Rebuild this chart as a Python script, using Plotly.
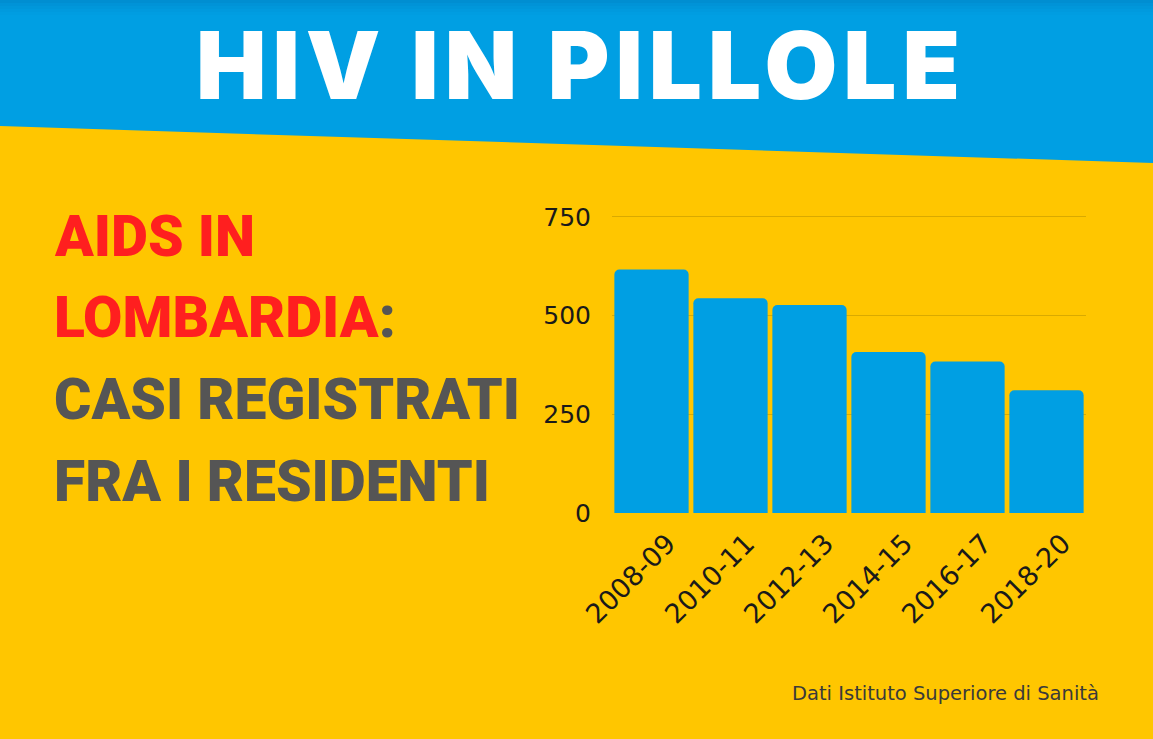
import plotly.graph_objects as go

W, H = 1153, 739

categories = ["2008-09", "2010-11", "2012-13", "2014-15", "2016-17", "2018-20"]
cases = [617, 544, 527, 408, 384, 311]
y_ticks = [0, 250, 500, 750]

YELLOW = "#FFC600"
BLUE = "#009FE3"
RED = "#FF1F1F"
GRAY = "#555555"
TICK = "#1A1A1A"


def px(x):
    return x / W


def py(y):
    return 1 - y / H


# y axis: 0 at 513 px, 750 at 217 px; range extended slightly so the 750 gridline shows
Y_MAX = 755
px_per_unit = (513 - 217) / 750
y_top_px = 513 - Y_MAX * px_per_unit

fig = go.Figure()
fig.add_trace(go.Bar(
    x=categories,
    y=cases,
    marker=dict(color=BLUE, line=dict(width=0)),
    hoverinfo="x+y",
))

shapes = [
    dict(type="path", xref="paper", yref="paper",
         path=f"M 0,1 L 1,1 L 1,{py(163)} L 0,{py(126)} Z",
         fillcolor=BLUE, line=dict(width=0), layer="below"),
]
# soft darker top edge of the header
for i, a in enumerate([0.05, 0.04, 0.03, 0.02, 0.015]):
    shapes.append(dict(type="rect", xref="paper", yref="paper",
                       x0=0, x1=1, y0=py(3 + 3 * i), y1=1,
                       fillcolor=f"rgba(0,60,120,{a})", line=dict(width=0), layer="below"))

left_font = dict(family="Roboto", size=57, weight=900)

annotations = [
    dict(text="<span style='letter-spacing:6px'>HIV IN PILLOLE</span>", x=px(581), y=py(65),
         xref="paper", yref="paper",
         xanchor="center", yanchor="middle", showarrow=False,
         font=dict(family="Inter", size=94, color="white", weight=900)),
    dict(text="AIDS IN", x=px(52), y=py(236), xref="paper", yref="paper",
         xanchor="left", yanchor="middle", showarrow=False,
         font=dict(**left_font, color=RED)),
    dict(text=f"LOMBARDIA<span style='color:{GRAY}'>:</span>", x=px(52), y=py(317), xref="paper", yref="paper",
         xanchor="left", yanchor="middle", showarrow=False,
         font=dict(**left_font, color=RED)),
    dict(text="CASI REGISTRATI", x=px(52), y=py(399), xref="paper", yref="paper",
         xanchor="left", yanchor="middle", showarrow=False,
         font=dict(**left_font, color=GRAY)),
    dict(text="FRA I RESIDENTI", x=px(52), y=py(481), xref="paper", yref="paper",
         xanchor="left", yanchor="middle", showarrow=False,
         font=dict(**left_font, color=GRAY)),
    dict(text="Dati Istituto Superiore di Sanità", x=px(1101), y=py(693), xref="paper", yref="paper",
         xanchor="right", yanchor="middle", showarrow=False,
         font=dict(family="DejaVu Sans", size=19.5, color="#3A3A3A")),
]

fig.update_layout(
    width=W, height=H,
    margin=dict(l=0, r=0, t=0, b=0, autoexpand=False),
    paper_bgcolor=YELLOW,
    plot_bgcolor="rgba(0,0,0,0)",
    showlegend=False,
    bargap=0.06,
    barcornerradius=5,
    shapes=shapes,
    annotations=annotations,
    xaxis=dict(type="category", domain=[px(612), px(1086)], tickangle=-45,
               tickfont=dict(family="DejaVu Sans", size=27, color=TICK),
               showgrid=False, showline=False, zeroline=False, automargin=False,
               ticks="outside", ticklen=3, tickcolor="rgba(0,0,0,0)",
               ticklabelshift=16),
    yaxis=dict(domain=[py(513), py(y_top_px)], range=[0, Y_MAX], tickvals=y_ticks,
               tickfont=dict(family="DejaVu Sans", size=25, color=TICK),
               showgrid=True, gridcolor="#D9AA00", gridwidth=1, automargin=False,
               zeroline=False, showline=False, ticklabelstandoff=20),
)

fig.write_html(
    "out.html",
    config={"displayModeBar": False},
    post_script="document.body.style.margin='0';document.body.style.overflow='hidden';",
)
